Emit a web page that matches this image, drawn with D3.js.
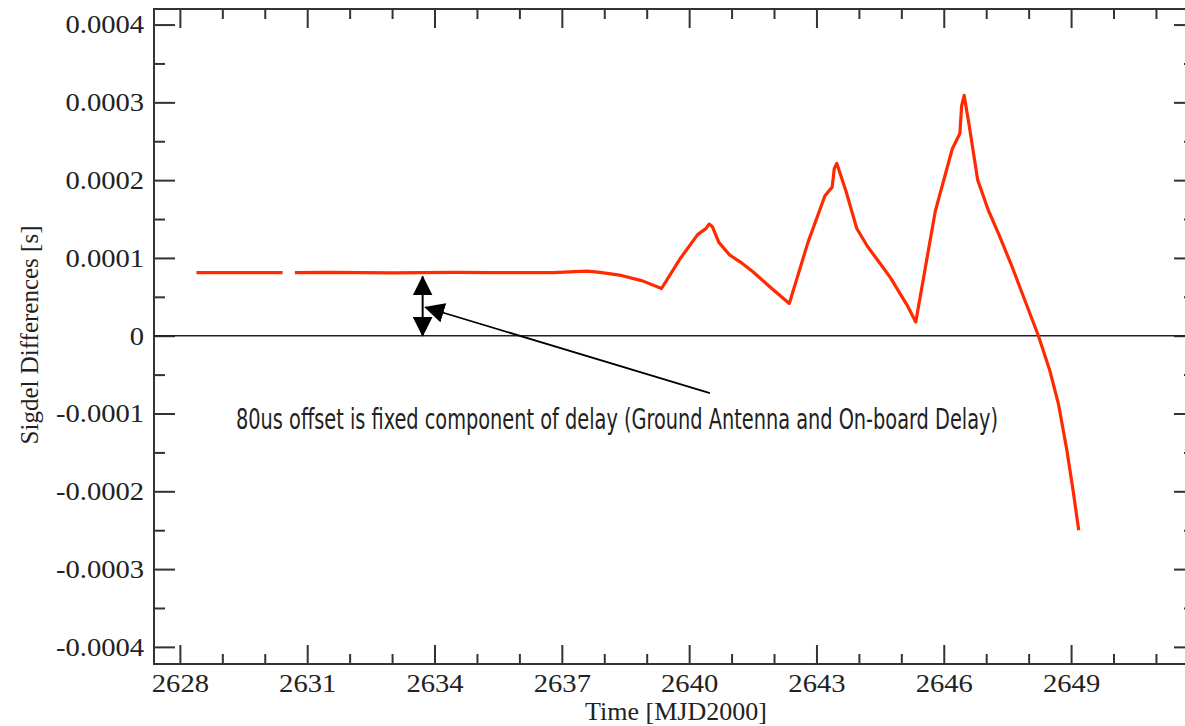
<!DOCTYPE html>
<html>
<head>
<meta charset="utf-8">
<script src="https://cdn.jsdelivr.net/npm/d3@7"></script>
<style>
  body { margin: 0; background: #fff; }
  svg { display: block; }
</style>
</head>
<body>
<script>
var width = 1185,
    height = 726;

// data (time in MJD2000, sigdel difference in seconds)
var times = [2628.39, 2629.2, 2630.0, 2630.42, null,
    2630.71, 2631.5, 2632.3, 2633.0, 2633.7, 2634.5, 2635.3, 2636.0, 2636.8, 2637.3, 2637.6, 2637.9, 2638.4, 2638.9, 2639.35,
    2639.8, 2640.2, 2640.4, 2640.47, 2640.55, 2640.7, 2640.96, 2641.2, 2641.51, 2641.9, 2642.36,
    2642.8, 2643.2, 2643.37, 2643.42, 2643.48, 2643.7, 2643.95, 2644.2, 2644.5, 2644.75, 2644.97, 2645.15, 2645.34,
    2645.8, 2646.2, 2646.38, 2646.42, 2646.48, 2646.6, 2646.8, 2647.05, 2647.3, 2647.6, 2647.91, 2648.23, 2648.5, 2648.7, 2648.9, 2649.05, 2649.18];
var sigdel = [0.0000812, 0.0000810, 0.0000810, 0.0000810, null,
    0.0000810, 0.0000815, 0.0000810, 0.0000808, 0.0000810, 0.0000815, 0.0000812, 0.0000810, 0.0000812, 0.0000825, 0.0000830, 0.0000815, 0.0000775, 0.0000705, 0.0000607,
    0.0001000, 0.0001300, 0.0001380, 0.0001435, 0.0001400, 0.0001200, 0.0001035, 0.0000950, 0.0000820, 0.0000630, 0.0000414,
    0.0001200, 0.0001800, 0.0001910, 0.0002150, 0.0002215, 0.0001850, 0.0001378, 0.0001150, 0.0000928, 0.0000740, 0.0000542, 0.0000380, 0.0000177,
    0.0001600, 0.0002400, 0.0002600, 0.0002950, 0.0003090, 0.0002700, 0.0002000, 0.0001613, 0.0001300, 0.0000900, 0.0000456, 0.0000000, -0.0000450, -0.0000872, -0.0001470, -0.0002000, -0.0002500];

var xMajorTicks = [2628, 2631, 2634, 2637, 2640, 2643, 2646, 2649];
var xTickLabels = ['2628', '2631', '2634', '2637', '2640', '2643', '2646', '2649'];
var yMajorTicks = [-0.0004, -0.0003, -0.0002, -0.0001, 0, 0.0001, 0.0002, 0.0003, 0.0004];
var yTickLabels = ['-0.0004', '-0.0003', '-0.0002', '-0.0001', '0', '0.0001', '0.0002', '0.0003', '0.0004'];

var annotText = '80us offset is fixed component of delay (Ground Antenna and On-board Delay)';
var offsetValue = 0.00008, offsetTime = 2633.72;

// plot frame in pixels (window.top is read-only, so no "top" name)
var frameL = 154, frameR = 1195, frameT = 9, frameB = 664;

var x = d3.scaleLinear().domain([2627.39, 2651.92]).range([frameL, frameR]);
var y = d3.scaleLinear().domain([-0.000422, 0.00042]).range([frameB, frameT]);

var svg = d3.select('body').append('svg').attr('width', width).attr('height', height);

var xMinor = d3.range(2628, 2652, 1).filter(function (d) { return xMajorTicks.indexOf(d) < 0; });
var yMinor = d3.range(-8, 9).filter(function (d) { return d % 2 != 0; }).map(function (d) { return d * 0.00005; });

function styleAxis(g) {
    g.select('.domain').remove();
    g.selectAll('line').attr('stroke', '#333').attr('stroke-width', 2);
    g.selectAll('text').style('font-family', '"Liberation Serif", "Times New Roman", serif')
        .style('font-size', '26px').attr('fill', '#222').attr('transform', 'scale(1.1,1)');
}

// bottom axis (ticks inside)
svg.append('g').attr('transform', 'translate(0,' + frameB + ')')
    .call(d3.axisBottom(x).tickValues(xMajorTicks).tickSize(-19).tickPadding(10)
        .tickFormat(function (d, i) { return xTickLabels[i]; }))
    .call(styleAxis);
svg.append('g').attr('transform', 'translate(0,' + frameB + ')')
    .call(d3.axisBottom(x).tickValues(xMinor).tickSize(-10).tickFormat(''))
    .call(styleAxis);
// top axis
svg.append('g').attr('transform', 'translate(0,' + frameT + ')')
    .call(d3.axisTop(x).tickValues(xMajorTicks).tickSize(-19).tickFormat(''))
    .call(styleAxis);
svg.append('g').attr('transform', 'translate(0,' + frameT + ')')
    .call(d3.axisTop(x).tickValues(xMinor).tickSize(-10).tickFormat(''))
    .call(styleAxis);
// left axis
svg.append('g').attr('transform', 'translate(' + frameL + ',0)')
    .call(d3.axisLeft(y).tickValues(yMajorTicks).tickSize(-21).tickPadding(9)
        .tickFormat(function (d, i) { return yTickLabels[i]; }))
    .call(styleAxis);
svg.append('g').attr('transform', 'translate(' + frameL + ',0)')
    .call(d3.axisLeft(y).tickValues(yMinor).tickSize(-11).tickFormat(''))
    .call(styleAxis);
// right axis
svg.append('g').attr('transform', 'translate(' + frameR + ',0)')
    .call(d3.axisRight(y).tickValues(yMajorTicks).tickSize(-21).tickFormat(''))
    .call(styleAxis);
svg.append('g').attr('transform', 'translate(' + frameR + ',0)')
    .call(d3.axisRight(y).tickValues(yMinor).tickSize(-11).tickFormat(''))
    .call(styleAxis);

// frame
svg.append('rect').attr('x', frameL).attr('y', frameT)
    .attr('width', frameR - frameL).attr('height', frameB - frameT)
    .attr('fill', 'none').attr('stroke', '#333').attr('stroke-width', 2);

// zero line
svg.append('line').attr('x1', frameL).attr('x2', frameR)
    .attr('y1', y(0)).attr('y2', y(0))
    .attr('stroke', '#222').attr('stroke-width', 1.5);

// data line
var pts = times.map(function (t, i) { return { t: t, v: sigdel[i] }; });
var line = d3.line()
    .defined(function (d) { return d.t !== null; })
    .x(function (d) { return x(d.t); })
    .y(function (d) { return y(d.v); });
svg.append('path').datum(pts).attr('d', line)
    .attr('fill', 'none').attr('stroke', '#ff2a00').attr('stroke-width', 3.2)
    .attr('stroke-linejoin', 'round');

// axis titles
svg.append('text').attr('x', 676).attr('y', 720).attr('text-anchor', 'middle')
    .style('font-family', '"Liberation Serif", "Times New Roman", serif').style('font-size', '26px')
    .attr('fill', '#222').text('Time [MJD2000]');
svg.append('text').attr('transform', 'translate(38,335) rotate(-90)').attr('text-anchor', 'middle')
    .style('font-family', '"Liberation Serif", "Times New Roman", serif').style('font-size', '25px')
    .attr('fill', '#222').text('Sigdel Differences [s]');

// annotation: double arrow for the offset
var defs = svg.append('defs');
defs.append('marker').attr('id', 'head').attr('viewBox', '0 0 20 20')
    .attr('refX', 19).attr('refY', 10).attr('markerWidth', 20).attr('markerHeight', 20)
    .attr('markerUnits', 'userSpaceOnUse').attr('orient', 'auto-start-reverse')
    .append('path').attr('d', 'M0,0 L20,10 L0,20 Z').attr('fill', '#000');

var ax = x(offsetTime);
svg.append('line').attr('x1', ax).attr('x2', ax)
    .attr('y1', y(offsetValue) + 3).attr('y2', y(0))
    .attr('stroke', '#000').attr('stroke-width', 2)
    .attr('marker-start', 'url(#head)').attr('marker-end', 'url(#head)');

// pointer from text to the arrow
svg.append('line').attr('x1', x(2640.49)).attr('y1', y(-0.0000739))
    .attr('x2', x(2633.78)).attr('y2', y(0.0000366))
    .attr('stroke', '#000').attr('stroke-width', 1.8)
    .attr('marker-end', 'url(#head)');

svg.append('text').attr('x', 236).attr('y', 429)
    .style('font-family', '"DejaVu Sans Condensed", "DejaVu Sans", sans-serif')
    .style('font-stretch', 'condensed').style('font-size', '29px')
    .attr('textLength', 762).attr('lengthAdjust', 'spacingAndGlyphs')
    .attr('fill', '#222').text(annotText);
</script>
</body>
</html>
